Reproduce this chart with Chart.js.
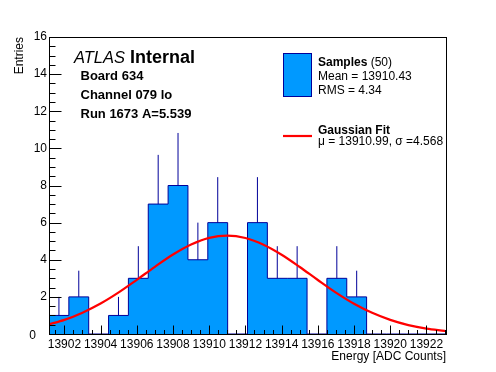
<!DOCTYPE html>
<html>
<head>
<meta charset="utf-8">
<script src="https://cdn.jsdelivr.net/npm/chart.js@4.4.1/dist/chart.umd.min.js"></script>
<style>
  html, body { margin: 0; padding: 0; background: #fff; }
</style>
</head>
<body>
<canvas id="c" width="496" height="372"></canvas>
<script>
// histogram range and bin contents (20 bins)
const xMin = 13901.15;
const xMax = 13923.08;
const counts = [1, 2, 0, 1, 3, 7, 8, 4, 6, 0, 6, 3, 3, 0, 3, 2, 0, 0, 0, 0];
const errUp  = [1, 1.41, 0, 1, 1.73, 2.65, 2.83, 2, 2.45, 0, 2.45, 1.73, 1.73, 0, 1.73, 1.41, 0, 0, 0, 0];

// gaussian fit curve
const fitX = [13901.15, 13902, 13903, 13904, 13905, 13906, 13907, 13908, 13909, 13910, 13911, 13912,
              13913, 13914, 13915, 13916, 13917, 13918, 13919, 13920, 13921, 13922, 13923, 13923.08];
const fitY = [0.52, 0.76, 1.15, 1.64, 2.24, 2.92, 3.62, 4.28, 4.82, 5.18, 5.30, 5.17,
              4.81, 4.27, 3.61, 2.91, 2.23, 1.63, 1.14, 0.76, 0.48, 0.29, 0.17, 0.16];

const xTicks = [13902, 13904, 13906, 13908, 13910, 13912, 13914, 13916, 13918, 13920, 13922];
const yTicks = [0, 2, 4, 6, 8, 10, 12, 14, 16];

const FONT = '"Liberation Sans", Arial, Helvetica, sans-serif';
const FILL = '#0099ff';
const LINE = '#000099';

const binW = (xMax - xMin) / counts.length;
const histPts = counts.map((c, i) => ({ x: xMin + i * binW, y: c }));
histPts.push({ x: xMax, y: counts[counts.length - 1] });

const errPts = [];
counts.forEach((c, i) => {
  if (c <= 0) return;
  const cx = xMin + (i + 0.5) * binW;
  errPts.push({ x: cx, y: c }, { x: cx, y: c + errUp[i] }, { x: cx, y: null });
});

const fitPts = fitX.map((v, i) => ({ x: v, y: fitY[i] }));

// ROOT-like frame, inward ticks, labels and legend
const rootFrame = {
  id: 'rootFrame',
  afterDraw(chart) {
    const { ctx, chartArea: a, scales: { x, y } } = chart;
    ctx.save();
    ctx.strokeStyle = '#000';
    ctx.lineWidth = 1;
    const L = a.left + 0.5, R = a.right + 0.5, T = a.top + 0.5, B = a.bottom + 0.5;
    ctx.strokeRect(L, T, R - L, B - T);

    ctx.beginPath();
    for (let v = 0; v <= 16.001; v += 0.5) {
      const py = Math.round(y.getPixelForValue(v)) + 0.5;
      const len = v % 2 === 0 ? 12 : 6;
      ctx.moveTo(L, py); ctx.lineTo(L + len, py);
    }
    for (let v = 13901.5; v <= 13923.001; v += 0.5) {
      const px = Math.round(x.getPixelForValue(v)) + 0.5;
      const len = v % 2 === 0 ? 9 : 4.5;
      ctx.moveTo(px, B); ctx.lineTo(px, B - len);
    }
    ctx.stroke();

    // the "0" of the y axis sits lower-left, as ROOT puts it
    ctx.fillStyle = '#000';
    ctx.font = '12px ' + FONT;
    ctx.textAlign = 'right';
    ctx.textBaseline = 'alphabetic';
    ctx.fillText('0', a.left - 13, y.getPixelForValue(0) + 5);

    // labels
    ctx.textAlign = 'left';
    ctx.font = 'italic 16.5px ' + FONT;
    ctx.fillText('ATLAS', 74, 62.5);
    ctx.font = 'bold 18px ' + FONT;
    ctx.fillText('Internal', 130, 62.5);
    ctx.font = 'bold 13px ' + FONT;
    ctx.fillText('Board 634', 80.5, 80);
    ctx.fillText('Channel 079 lo', 80.5, 99);
    ctx.fillText('Run 1673 A=5.539', 80.5, 117.5);

    // legend
    ctx.fillStyle = FILL;
    ctx.fillRect(283.5, 53.5, 28, 43);
    ctx.strokeStyle = LINE;
    ctx.strokeRect(283.5, 53.5, 28, 43);
    ctx.strokeStyle = '#ff0000';
    ctx.lineWidth = 2.2;
    ctx.beginPath();
    ctx.moveTo(283, 136); ctx.lineTo(312, 136);
    ctx.stroke();

    ctx.fillStyle = '#000';
    ctx.font = 'bold 12px ' + FONT;
    ctx.fillText('Samples', 318, 65.5);
    const w = ctx.measureText('Samples').width;
    ctx.font = '12px ' + FONT;
    ctx.fillText(' (50)', 318 + w, 65.5);
    ctx.fillText('Mean = 13910.43', 318, 80);
    ctx.fillText('RMS = 4.34', 318, 94);
    ctx.font = 'bold 12px ' + FONT;
    ctx.fillText('Gaussian Fit', 318, 133.5);
    ctx.font = '12px ' + FONT;
    ctx.fillText('\u03bc = 13910.99, \u03c3 =4.568', 318, 145);
    ctx.restore();
  }
};

new Chart(document.getElementById('c'), {
  type: 'line',
  data: {
    datasets: [
      {
        data: fitPts,
        borderColor: '#ff0000',
        borderWidth: 2.2,
        pointRadius: 0,
        cubicInterpolationMode: 'monotone',
        fill: false,
        order: 0
      },
      {
        data: errPts,
        borderColor: LINE,
        borderWidth: 1,
        pointRadius: 0,
        spanGaps: false,
        fill: false,
        order: 1
      },
      {
        data: histPts,
        stepped: 'before',
        borderColor: LINE,
        borderWidth: 1,
        backgroundColor: FILL,
        pointRadius: 0,
        fill: 'origin',
        order: 2
      }
    ]
  },
  options: {
    responsive: false,
    animation: false,
    devicePixelRatio: 1,
    layout: { padding: { top: 37, right: 50, left: 0, bottom: 0 } },
    plugins: { legend: { display: false }, tooltip: { enabled: false } },
    scales: {
      x: {
        type: 'linear',
        min: xMin,
        max: xMax,
        afterBuildTicks: s => { s.ticks = xTicks.map(v => ({ value: v })); },
        afterFit: s => { s.height = 38; },
        grid: { display: false, drawTicks: false },
        border: { display: false },
        ticks: {
          autoSkip: false, maxRotation: 0, padding: 3,
          color: '#000', font: { family: FONT, size: 12 },
          callback: v => String(v)
        },
        title: {
          display: true, text: 'Energy [ADC Counts]', align: 'end',
          color: '#000', font: { family: FONT, size: 12 },
          padding: { top: 0, bottom: 8 }
        }
      },
      y: {
        min: 0,
        max: 16,
        afterBuildTicks: s => { s.ticks = yTicks.map(v => ({ value: v })); },
        afterFit: s => { s.width = 49; },
        grid: { display: false, drawTicks: false },
        border: { display: false },
        ticks: {
          padding: 2, color: '#000', font: { family: FONT, size: 12 },
          callback: v => (v === 0 ? '' : String(v))
        },
        title: {
          display: true, text: 'Entries', align: 'end',
          color: '#000', font: { family: FONT, size: 12 },
          padding: { top: 12, bottom: 0 }
        }
      }
    }
  },
  plugins: [rootFrame]
});
</script>
</body>
</html>
